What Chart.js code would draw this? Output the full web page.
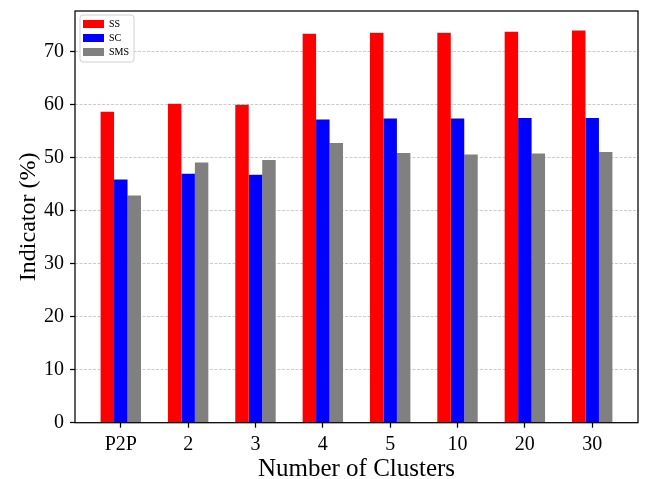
<!DOCTYPE html>
<html>
<head>
<meta charset="utf-8">
<script src="https://cdn.jsdelivr.net/npm/chart.js@4.4.0/dist/chart.umd.min.js"></script>
<style>
  html, body { margin: 0; padding: 0; background: #fff; }
  #wrap { width: 646px; height: 479px; }
</style>
</head>
<body>
<div id="wrap"><canvas id="chart" width="646" height="479"></canvas></div>
<script>
// indicator values (%) per clustering setting
var clusters = ['P2P', '2', '3', '4', '5', '10', '20', '30'];
var ssValues = [58.7, 60.2, 60.0, 73.4, 73.6, 73.6, 73.8, 74.0];
var scValues = [45.9, 47.0, 46.8, 57.2, 57.4, 57.4, 57.5, 57.5];
var smsValues = [42.9, 49.1, 49.6, 52.8, 50.9, 50.6, 50.8, 51.1];
var yTicks = [0, 10, 20, 30, 40, 50, 60, 70];

var serif = "'Liberation Serif', 'Times New Roman', serif";
Chart.defaults.font.family = serif;
Chart.defaults.color = '#000';

function points(values) {
	return values.map(function(v, i) { return { x: i, y: v }; });
}

// box around the plot + framed legend drawn over the grid
var framePlugin = {
	id: 'frame',
	afterLayout: function(chart) {
		var a = chart.chartArea;
		chart.legend.left = a.left + 4;
		chart.legend.top = a.top + 4;
	},
	afterDraw: function(chart) {
		var ctx = chart.ctx, a = chart.chartArea;
		var hb = chart.legend.legendHitBoxes;
		var l = Infinity, t = Infinity, r = -Infinity, b = -Infinity;
		hb.forEach(function(h) {
			l = Math.min(l, h.left); t = Math.min(t, h.top);
			r = Math.max(r, h.left + h.width); b = Math.max(b, h.top + h.height);
		});
		ctx.save();
		ctx.beginPath();
		ctx.roundRect(l - 3, t - 4, (r + 5) - (l - 3), (b + 5) - (t - 4), 3);
		ctx.fillStyle = 'rgba(255,255,255,0.85)';
		ctx.fill();
		ctx.lineWidth = 1;
		ctx.strokeStyle = '#d0d0d0';
		ctx.stroke();
		ctx.restore();
		chart.legend.draw();

		ctx.save();
		ctx.strokeStyle = '#000';
		ctx.lineWidth = 1.25;
		ctx.strokeRect(a.left, a.top, a.right - a.left, a.bottom - a.top);
		ctx.restore();
	}
};

new Chart(document.getElementById('chart'), {
	type: 'bar',
	data: {
		datasets: [
			{ label: 'SS', data: points(ssValues), backgroundColor: '#ff0000' },
			{ label: 'SC', data: points(scValues), backgroundColor: '#0000ff' },
			{ label: 'SMS', data: points(smsValues), backgroundColor: '#808080' }
		]
	},
	options: {
		responsive: false,
		animation: false,
		events: [],
		layout: { padding: { left: 0, right: 8, top: 11, bottom: 0 } },
		datasets: { bar: { categoryPercentage: 0.6, barPercentage: 1.0 } },
		plugins: {
			tooltip: { enabled: false },
			legend: {
				position: 'chartArea',
				align: 'start',
				labels: {
					font: { size: 10, family: serif },
					color: '#000',
					boxWidth: 21,
					boxHeight: 8,
					padding: 4
				}
			}
		},
		scales: {
			x: {
				type: 'linear',
				offset: false,
				min: -0.68,
				max: 7.68,
				afterBuildTicks: function(s) {
					s.ticks = clusters.map(function(c, i) { return { value: i }; });
				},
				afterFit: function(s) {
					s.height = 56.3;
					s.paddingLeft = 0;
					s.paddingRight = 0;
				},
				ticks: {
					font: { size: 20 },
					padding: 5,
					maxRotation: 0,
					callback: function(v) { return clusters[v]; }
				},
				grid: { offset: false, drawOnChartArea: false, tickLength: 5, tickColor: '#000', tickWidth: 1.25 },
				border: { display: false },
				title: {
					display: true,
					text: 'Number of Clusters',
					font: { size: 25, lineHeight: 0.8 },
					padding: { top: 0, bottom: 0 }
				}
			},
			y: {
				min: 0,
				max: 77.7,
				afterBuildTicks: function(s) {
					s.ticks = yTicks.map(function(v) { return { value: v }; });
				},
				afterFit: function(s) {
					s.width = 75;
					s.paddingTop = 0;
					s.paddingBottom = 0;
				},
				ticks: { font: { size: 20 }, padding: 6 },
				grid: {
					color: 'rgba(170,170,170,0.75)',
					lineWidth: 0.8,
					tickLength: 5,
					tickColor: '#000',
					tickWidth: 1.25,
					tickBorderDash: []
				},
				border: { display: false, dash: [3, 1.5] },
				title: {
					display: true,
					text: 'Indicator (%)',
					font: { size: 24 },
					padding: { top: 14, bottom: 0 }
				}
			}
		}
	},
	plugins: [framePlugin]
});
</script>
</body>
</html>
